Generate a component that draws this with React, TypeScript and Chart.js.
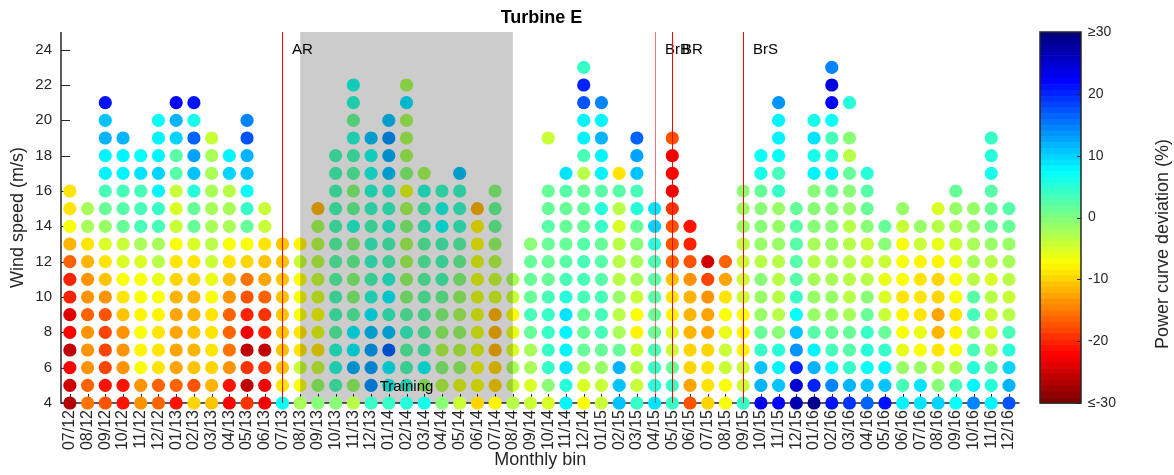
import React, { useEffect, useRef } from 'react';
import { Chart, registerables } from 'chart.js';

Chart.register(...registerables);

// ---------- data ----------
const months = [
  '07/12', '08/12', '09/12', '10/12', '11/12', '12/12',
  '01/13', '02/13', '03/13', '04/13', '05/13', '06/13', '07/13', '08/13', '09/13', '10/13', '11/13', '12/13',
  '01/14', '02/14', '03/14', '04/14', '05/14', '06/14', '07/14', '08/14', '09/14', '10/14', '11/14', '12/14',
  '01/15', '02/15', '03/15', '04/15', '05/15', '06/15', '07/15', '08/15', '09/15', '10/15', '11/15', '12/15',
  '01/16', '02/16', '03/16', '04/16', '05/16', '06/16', '07/16', '08/16', '09/16', '10/16', '11/16', '12/16',
];

// power curve deviation (%) per month, wind speed bins starting at 4 m/s (step 1 m/s); null = no data
const dev2012: (number | null)[][] = [
  [-27, -25, -22, -26, -22, -24, -20, -20, -16, -12, -7, -9, -9],
  [-15, -16, -14, -14, -14, -16, -14, -14, -12, -9, -2, -2],
  [-17, -21, -18, -18, -18, -17, -14, -11, -9, -5, -1, 1, 3, 8, 8, 12, 11, 21],
  [-21, -21, -14, -14, -14, -11, -9, -7, -5, -4, 1, 2, 3, 8, 8, 12],
  [-14, -14, -7, -8, -7, -8, -7, -7, -5, -2, 3, 3, 3, 9, 7],
  [-16, -16, -9, -9, -9, -8, -7, -6, -3, -2, 3, 4, 8, 10, 8, 8, 7],
];
const dev2013: (number | null)[][] = [
  [-21, -16, -13, -13, -13, -13, -12, -10, -9, -7, -4, -5, -4, 2, 2, 10, 12, 22],
  [-10, -17, -11, -12, -11, -12, -12, -10, -9, -5, 1, 1, 5, 11, 13, 16, 6, 21],
  [-11, -12, -10, -9, -9, -9, -7, -6, -4, -3, -2, -2, -2, -2, -2, -4],
  [-22, -21, -14, -15, -16, -16, -14, -11, -9, -7, -2, -2, -3, 10, 8],
  [-19, -26, -19, -26, -23, -20, -17, -15, -10, -7, 1, 4, 7, 11, 12, 17, 15],
  [-23, -23, -19, -26, -20, -19, -16, -13, -11, -9, -4, -4],
  [7, -9, -11, -11, -11, -11, -11, -11, -11, -11],
  [-2, -7, -4, -9, -9, -7, -7, -7, -4, -8],
  [0, -1, -4, -9, -6, -7, -5, -4, -3, -3, -2, -12],
  [0, 3, 5, 5, 2, 3, 3, 2, 2, 2, 3, 3, 3, 3, 3],
  [-3, -1, 12, 8, 8, 2, 0, 0, 1, 0, 5, 1, 0, 2, 3, 5, 1, 5, 6],
  [4, 14, 13, 13, 11, 8, 5, 3, 4, 4, 3, 4, 5, 6, 6, 11],
];
const dev2014: (number | null)[][] = [
  [4, 7, 8, 16, 11, 4, 8, 5, 3, 3, 5, 4, 5, 11, 12, 14, 11],
  [5, 5, 3, 2, 4, 2, 0, -1, -2, -2, 0, -2, -6, 0, -2, -2, -2, 9, -2],
  [6, -1, 7, 3, 2, 2, 2, 2, 2, 2, 4, 3, 5, -2],
  [0, -3, 0, -3, -1, 0, 1, 3, 3, 3, 7, 6, 4],
  [-4, -6, -1, -3, -1, -2, -1, 0, 1, 2, 4, 4, 4, 11],
  [-10, -7, -7, -6, -6, -6, -6, -6, -6, -7, -8, -12],
  [-8, -10, -10, -12, -12, -12, -5, -4, -3, -1, 1, 1, 0],
  [-3, -4, -2, -5, -6, -7, -4, -2],
  [-4, -5, -2, -2, 1, 3, 1, 1, 1, 0],
  [-5, 0, 4, 4, 4, 4, 3, 1, 1, 1, 2, 1, 1, null, null, -4],
  [8, 5, 9, 8, 8, 9, 5, 3, 2, 1, 1, 1, 2, 9],
  [-7, -5, -2, 1, 1, 1, 3, 3, 3, 2, 1, 1, 1, -3, 3, 8, 8, 17, 20, 4],
];
const dev2015: (number | null)[][] = [
  [-4, -4, -1, 1, 3, 3, 3, 2, 2, 1, 4, 5, 2, 8, 8, 12, 8, 15],
  [11, 11, 12, 1, -2, -3, -1, -3, -3, -3, -5, -3, 2, -9],
  [4, -4, -3, -4, -8, -7, -4, -2, -2, 0, 1, 5, 3, 11, 13, 16],
  [9, 5, 4, 3, 1, 1, 2, 2, 3, 5, 10, 9],
  [4, 4, 1, -4, -5, -8, -9, -11, -16, -17, -17, -19, -23, -22, -23, -17],
  [-17, -13, -10, -10, -12, -12, -12, -14, -17, -20, -21],
  [-10, -9, -9, -10, -13, -13, -14, -18, -25],
  [-7, -7, -4, -4, -6, -7, -9, -13, -16],
  [4, -4, -4, -8, -8, -7, -4, -4, -4, -3, -1, -1, 0],
  [23, 12, 11, 4, 1, -1, -1, 0, -3, -1, 0, 0, 1, 6, 7],
  [22, 11, 8, 5, 0, -3, -3, -3, -3, -1, -1, -1, 4, 3, 7, 8, 8, 14],
  [27, 25, 20, 14, 11, 7, 4, 2, 2, 2, 2, 1],
];
const dev2016: (number | null)[][] = [
  [29, 20, 12, 8, 2, -1, -1, -2, -3, -2, 0, 0, 0, 8, 6, 9, 6],
  [21, 15, 8, 3, 1, -1, -1, -2, -2, -1, 0, 0, 1, 8, 5, 3, 7, 22, 24, 15],
  [19, 12, 4, 2, 1, -2, -3, -3, -3, -3, -3, -1, 0, 1, -3, 0, null, 5],
  [16, 11, 7, 5, 4, 1, 0, -3, -4, -4, 0, 1, 2, 5],
  [21, 11, 8, 4, 1, -4, -5, -6, -4, 0, 1],
  [8, 3, -1, -6, -7, -8, -9, -7, -7, -7, -4, -1],
  [9, 9, -1, -7, -6, -9, -9, -9, -8, -4, -1],
  [10, 0, -3, -9, -12, -13, -10, -10, -8, -6, -3, -5],
  [7, 3, -2, -7, -8, -9, -7, -7, -6, -4, -2, -1, 1],
  [15, 8, 5, 3, -1, 3, 2, -3, -2, -2, -1, -1],
  [8, 5, 2, -3, -5, -4, -3, -5, -3, -1, 1, 1, 2, 6, 5, 4],
  [17, 12, 10, 5, 3, -3, -4, -3, -2, -1, 1, 2],
];

const minWind = 4;
const yTicks = [4, 6, 8, 10, 12, 14, 16, 18, 20, 22, 24];
const eventMonths = ['07/13', '04/15', '05/15', '09/15'];
const eventLabels = ['AR', 'BrB', 'BR', 'BrS'];
const trainingStart = '08/13';
const trainingEnd = '08/14';
const cbarTicks = [30, 20, 10, 0, -10, -20, -30];
const cbarLabels = ['≥30', '20', '10', '0', '-10', '-20', '≤-30'];

const deviation = [...dev2012, ...dev2013, ...dev2014, ...dev2015, ...dev2016];

// ---------- colour map (MATLAB jet, 64 levels, +30 = dark blue, -30 = dark red) ----------
function jetIndex(idx: number): string {
  const t = idx / 63;
  const c = (o: number) => Math.round(255 * Math.min(1, Math.max(0, 1.5 - Math.abs(4 * t - o))));
  return `rgb(${c(3)},${c(2)},${c(1)})`;
}
function jet(v: number): string {
  const t = Math.min(1, Math.max(0, (30 - v) / 60));
  const idx = Math.min(63, Math.floor(t * 64));
  return jetIndex(idx);
}

const FONT = '"Liberation Sans", Arial, Helvetica, sans-serif';
const AXIS_COLOR = '#262626';

const decorPlugin = {
  id: 'decor',
  beforeDatasetsDraw(chart: any) {
    const { ctx, chartArea, scales } = chart;
    const { left, right, top, bottom } = chartArea;
    const x = scales.x;
    const y = scales.y;
    ctx.save();
    ctx.strokeStyle = AXIS_COLOR;
    ctx.lineWidth = 1.5;
    ctx.beginPath();
    ctx.moveTo(left, top);
    ctx.lineTo(left, bottom);
    ctx.lineTo(right, bottom);
    ctx.stroke();
    ctx.lineWidth = 1;
    ctx.beginPath();
    months.forEach((_, i) => {
      const px = Math.round(x.getPixelForValue(i)) + 0.5;
      ctx.moveTo(px, bottom);
      ctx.lineTo(px, bottom - 9);
    });
    yTicks.forEach((v) => {
      const py = Math.round(y.getPixelForValue(v)) + 0.5;
      ctx.moveTo(left, py);
      ctx.lineTo(left + 9, py);
    });
    ctx.stroke();
    ctx.restore();
  },
  afterDatasetDraw(chart: any, args: any) {
    if (args.index !== 0) return;
    const { ctx, chartArea, scales } = chart;
    const x0 = scales.x.getPixelForValue(months.indexOf(trainingStart));
    const x1 = scales.x.getPixelForValue(months.indexOf(trainingEnd));
    ctx.save();
    ctx.fillStyle = 'rgba(0,0,0,0.2)';
    ctx.fillRect(x0, chartArea.top, x1 - x0, chartArea.bottom - chartArea.top);
    ctx.restore();
  },
  afterDatasetsDraw(chart: any) {
    const { ctx, chartArea, scales } = chart;
    const x = scales.x;
    const y = scales.y;
    ctx.save();
    eventMonths.forEach((m, k) => {
      const px = Math.round(x.getPixelForValue(months.indexOf(m))) + 0.5;
      ctx.strokeStyle = k === 1 ? 'rgba(255,0,0,0.55)' : 'rgb(255,0,0)';
      ctx.lineWidth = 1;
      ctx.beginPath();
      ctx.moveTo(px, chartArea.top);
      ctx.lineTo(px, chartArea.bottom);
      ctx.stroke();
      ctx.fillStyle = '#000';
      ctx.font = `15px ${FONT}`;
      ctx.textAlign = 'left';
      ctx.textBaseline = 'middle';
      ctx.fillText(eventLabels[k], px + 9.5, y.getPixelForValue(24));
    });
    const tx0 = x.getPixelForValue(months.indexOf(trainingStart));
    const tx1 = x.getPixelForValue(months.indexOf(trainingEnd));
    ctx.fillStyle = '#000';
    ctx.font = `15px ${FONT}`;
    ctx.textAlign = 'center';
    ctx.textBaseline = 'middle';
    ctx.fillText('Training', (tx0 + tx1) / 2, y.getPixelForValue(4.9));
    ctx.restore();
  },
  afterDraw(chart: any) {
    const { ctx, chartArea } = chart;
    const { top, bottom } = chartArea;
    ctx.save();
    // title
    ctx.fillStyle = '#000';
    ctx.font = `bold 18px ${FONT}`;
    ctx.textAlign = 'center';
    ctx.textBaseline = 'middle';
    ctx.fillText('Turbine E', 541.5, 18);
    // colorbar
    const cx0 = 1040;
    const cx1 = 1081;
    const h = bottom - top;
    for (let i = 0; i < 64; i++) {
      ctx.fillStyle = jetIndex(i);
      const y0 = top + (i * h) / 64;
      ctx.fillRect(cx0, y0, cx1 - cx0, h / 64 + 0.6);
    }
    ctx.strokeStyle = AXIS_COLOR;
    ctx.lineWidth = 1.5;
    ctx.strokeRect(cx0, top, cx1 - cx0, h);
    ctx.lineWidth = 1;
    ctx.fillStyle = AXIS_COLOR;
    ctx.font = `14px ${FONT}`;
    ctx.textAlign = 'left';
    ctx.textBaseline = 'middle';
    cbarTicks.forEach((v, k) => {
      const py = top + ((30 - v) / 60) * h;
      const pr = Math.round(py) + 0.5;
      ctx.beginPath();
      ctx.moveTo(cx1, pr);
      ctx.lineTo(cx1 - 4, pr);
      ctx.stroke();
      ctx.fillText(cbarLabels[k], 1088, py);
    });
    ctx.translate(1163, 244);
    ctx.rotate(-Math.PI / 2);
    ctx.textAlign = 'center';
    ctx.font = `18px ${FONT}`;
    ctx.fillText('Power curve deviation (%)', 0, 0);
    ctx.restore();
  },
};

export default function App() {
  const canvasRef = useRef<HTMLCanvasElement | null>(null);

  useEffect(() => {
    if (!canvasRef.current) return;
    Chart.defaults.font.family = FONT;

    const upper: { x: number; y: number; v: number }[] = [];
    const bottomRow: { x: number; y: number; v: number }[] = [];
    deviation.forEach((col, i) => {
      col.forEach((v, k) => {
        if (v === null) return;
        const p = { x: i, y: minWind + k, v };
        if (k === 0) bottomRow.push(p);
        else upper.push(p);
      });
    });

    const pointStyle = {
      pointRadius: 6.6,
      pointHoverRadius: 6.6,
      pointBorderWidth: 0,
      pointBackgroundColor: (c: any) => jet(c.raw ? c.raw.v : 0),
      showLine: false,
      clip: false,
    };

    const chart = new Chart(canvasRef.current, {
      type: 'scatter',
      data: {
        datasets: [
          { label: 'bins', data: upper, order: 2, ...pointStyle } as any,
          { label: 'monthly', data: bottomRow, order: 1, ...pointStyle } as any,
        ],
      },
      options: {
        animation: false,
        responsive: false,
        events: [],
        layout: { padding: { left: 0, right: 154.4, top: 32, bottom: 0 } },
        plugins: {
          legend: { display: false },
          tooltip: { enabled: false },
          title: { display: false },
        },
        scales: {
          x: {
            type: 'linear',
            min: -0.5,
            max: 53.6,
            grid: { display: false, drawTicks: false },
            border: { display: false },
            afterBuildTicks: (s: any) => {
              s.ticks = months.map((_, i) => ({ value: i }));
            },
            afterFit: (s: any) => {
              s.height = 72;
            },
            ticks: {
              autoSkip: false,
              minRotation: 90,
              maxRotation: 90,
              padding: 7,
              color: AXIS_COLOR,
              font: { size: 16, family: FONT },
              callback: (v: any) => months[v as number] ?? '',
            },
            title: {
              display: true,
              text: 'Monthly bin',
              color: AXIS_COLOR,
              font: { size: 18, family: FONT },
              padding: { top: 0, bottom: 4 },
            },
          },
          y: {
            type: 'linear',
            min: 4,
            max: 25,
            grid: { display: false, drawTicks: false },
            border: { display: false },
            afterBuildTicks: (s: any) => {
              s.ticks = yTicks.map((v) => ({ value: v }));
            },
            afterFit: (s: any) => {
              s.width = 61;
            },
            ticks: {
              padding: 9,
              color: AXIS_COLOR,
              font: { size: 15, family: FONT },
            },
            title: {
              display: true,
              text: 'Wind speed (m/s)',
              color: AXIS_COLOR,
              font: { size: 18, family: FONT },
              padding: { top: 7, bottom: 0 },
            },
          },
        },
      } as any,
      plugins: [decorPlugin],
    });

    return () => chart.destroy();
  }, []);

  return (
    <div style={{ width: 1174, height: 475, position: 'relative', background: '#fff' }}>
      <style>{'body{margin:0;}'}</style>
      <canvas ref={canvasRef} width={1174} height={475} style={{ display: 'block' }} />
    </div>
  );
}
